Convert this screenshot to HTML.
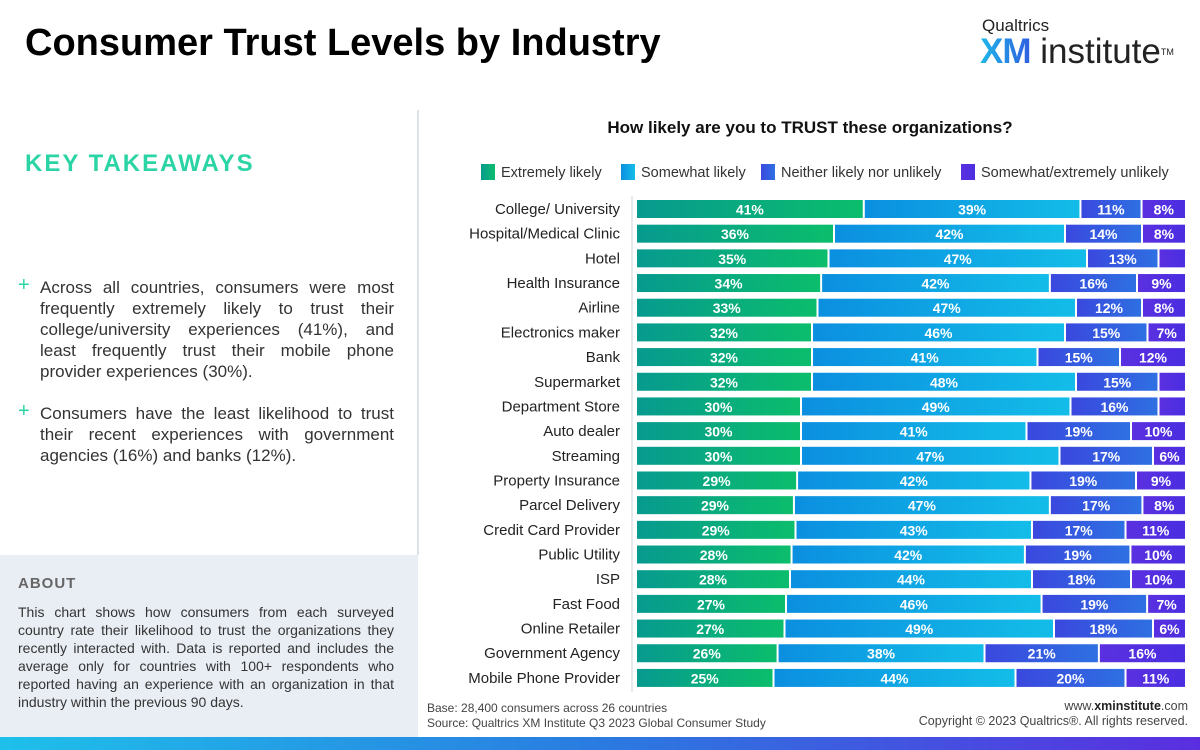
<!DOCTYPE html>
<html><head><meta charset="utf-8"><style>
body{margin:0;width:1200px;height:750px;position:relative;overflow:hidden;background:#fff;font-family:"Liberation Sans",sans-serif;}
.abs{position:absolute;}
</style></head><body>
<div class="abs" style="left:25px;top:22px;font-size:38px;font-weight:bold;color:#000;letter-spacing:0px">Consumer Trust Levels by Industry</div>
<div class="abs" style="left:980px;top:16px;width:215px">
 <div style="font-size:17px;color:#222;margin-left:2px">Qualtrics</div>
 <div style="font-size:35px;line-height:36px;margin-top:-2px;color:#222"><b style="background:linear-gradient(90deg,#1fb8e8,#2e5ee0);-webkit-background-clip:text;color:transparent;letter-spacing:-1px">XM</b> institute<sup style="font-size:9px;vertical-align:top">TM</sup></div>
</div>
<div class="abs" style="left:417px;top:110px;width:2px;height:445px;background:#dde2e8"></div>
<div class="abs" style="left:25px;top:150px;font-size:24px;font-weight:bold;color:#2bd4a4;letter-spacing:2px">KEY TAKEAWAYS</div>
<div class="abs" style="left:18px;top:277px;width:376px;font-size:17px;line-height:21px;color:#333;">
 <div style="position:relative;padding-left:22px;text-align:justify"><span style="position:absolute;left:0;top:-2px;color:#2bd4a4;font-size:20px">+</span>Across all countries, consumers were most frequently extremely likely to trust their college/university experiences (41%), and least frequently trust their mobile phone provider experiences (30%).</div>
 <div style="position:relative;padding-left:22px;text-align:justify;margin-top:21px"><span style="position:absolute;left:0;top:-2px;color:#2bd4a4;font-size:20px">+</span>Consumers have the least likelihood to trust their recent experiences with government agencies (16%) and banks (12%).</div>
</div>
<div class="abs" style="left:0;top:555px;width:418px;height:182px;background:#e9eef5">
 <div style="position:absolute;left:18px;top:20px;font-size:15px;font-weight:bold;color:#666;letter-spacing:1px">ABOUT</div>
 <div style="position:absolute;left:18px;top:48px;width:376px;font-size:14px;line-height:18px;color:#333;text-align:justify">This chart shows how consumers from each surveyed country rate their likelihood to trust the organizations they recently interacted with. Data is reported and includes the average only for countries with 100+ respondents who reported having an experience with an organization in that industry within the previous 90 days.</div>
</div>
<div class="abs" style="left:420px;width:780px;top:118px;text-align:center;font-size:17px;font-weight:bold;color:#111">How likely are you to TRUST these organizations?</div>
<svg class="abs" style="left:0;top:0" width="1200" height="750" id="chart">
<defs>
<linearGradient id="g0" x1="0" x2="1"><stop offset="0" stop-color="#079a8f"/><stop offset="1" stop-color="#0bbd6c"/></linearGradient>
<linearGradient id="g1" x1="0" x2="1"><stop offset="0" stop-color="#0b8fe0"/><stop offset="1" stop-color="#13bde8"/></linearGradient>
<linearGradient id="g2" x1="0" x2="1"><stop offset="0" stop-color="#3a48de"/><stop offset="1" stop-color="#2e70e2"/></linearGradient>
<linearGradient id="g3" x1="0" x2="1"><stop offset="0" stop-color="#5a30e0"/><stop offset="1" stop-color="#4a2ee0"/></linearGradient>
<linearGradient id="band" x1="0" x2="1"><stop offset="0" stop-color="#1ec0ea"/><stop offset="0.5" stop-color="#2a7be0"/><stop offset="1" stop-color="#5a2ee0"/></linearGradient>
</defs>
<line x1="632" y1="196" x2="632" y2="692" stroke="#dde2e8" stroke-width="1.5"/>
</svg>
<div class="abs" style="left:427px;top:701px;font-size:12px;color:#444">Base: 28,400 consumers across 26 countries</div>
<div class="abs" style="left:427px;top:716px;font-size:12px;color:#444">Source: Qualtrics XM Institute Q3 2023 Global Consumer Study</div>
<div class="abs" style="right:12px;top:699px;font-size:12.5px;color:#444">www.<b style="color:#222">xminstitute</b>.com</div>
<div class="abs" style="right:12px;top:714px;font-size:12.5px;color:#444">Copyright © 2023 Qualtrics®. All rights reserved.</div>
<script>
const categories=["College/ University","Hospital/Medical Clinic","Hotel","Health Insurance","Airline","Electronics maker","Bank","Supermarket","Department Store","Auto dealer","Streaming","Property Insurance","Parcel Delivery","Credit Card Provider","Public Utility","ISP","Fast Food","Online Retailer","Government Agency","Mobile Phone Provider"];
const extremely=[41,36,35,34,33,32,32,32,30,30,30,29,29,29,28,28,27,27,26,25];
const somewhat=[39,42,47,42,47,46,41,48,49,41,47,42,47,43,42,44,46,49,38,44];
const neither=[11,14,13,16,12,15,15,15,16,19,17,19,17,17,19,18,19,18,21,20];
const unlikely=[8,8,5,9,8,7,12,5,5,10,6,9,8,11,10,10,7,6,16,11];
const seriesNames=["Extremely likely","Somewhat likely","Neither likely nor unlikely","Somewhat/extremely unlikely"];
const NS="http://www.w3.org/2000/svg";
const svg=document.getElementById('chart');
const x0=637,x1=1187,yTop=209,step=24.68,bh=18;
const yPos=i=>yTop+i*step;
function mk(t,a){const e=document.createElementNS(NS,t);for(const k in a)e.setAttribute(k,a[k]);svg.appendChild(e);return e;}
const series=[extremely,somewhat,neither,unlikely];
const keys=["extremely","somewhat","neither","unlikely"];
categories.forEach((c,i)=>{
  const lab=mk('text',{x:620,y:yPos(i)+5,'text-anchor':'end','font-size':15,fill:'#222'});
  lab.textContent=c;
  
  
  const tot=series.reduce((s,a)=>s+a[i],0);
  let cx=x0;
  series.forEach((arr,k)=>{
    const w=arr[i]/tot*(x1-x0);
    const r=mk('rect',{x:cx,y:yPos(i)-bh/2,width:Math.max(0,w-2),height:bh,fill:'url(#g'+k+')'});
    
    
    if(arr[i]>=6){
      const t=mk('text',{x:cx+w/2-1,y:yPos(i)+5.5,'text-anchor':'middle','font-size':14,'font-weight':'bold',fill:'#fff'});
      t.textContent=arr[i]+'%';
      
      
    }
    cx+=w;
  });
});
const lx=[481,621,761,961];
seriesNames.forEach((n,k)=>{
  const r=mk('rect',{x:lx[k],y:164,width:14,height:16,fill:'url(#g'+k+')'});
  
  
  const t=mk('text',{x:lx[k]+20,y:177,'font-size':14.5,fill:'#333'});
  t.textContent=n;
  
  
});
const band=mk('rect',{x:0,y:737,width:1200,height:13,fill:'url(#band)'});


</script>
</body></html>
